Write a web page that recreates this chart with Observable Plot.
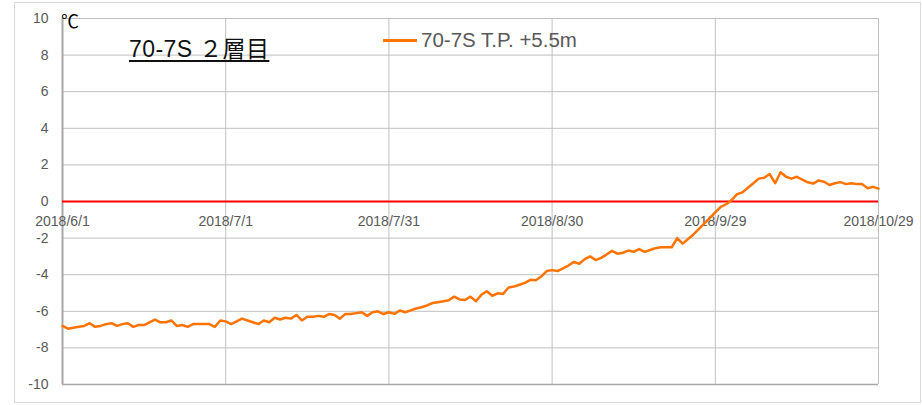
<!DOCTYPE html>
<html>
<head>
<meta charset="utf-8">
<script src="https://cdn.jsdelivr.net/npm/d3@7"></script>
<script src="https://cdn.jsdelivr.net/npm/@observablehq/plot@0.6"></script>
<style>
  html, body { margin: 0; padding: 0; background: #fff; }
  #wrap { position: relative; width: 922px; height: 405px; overflow: hidden; }
  #frame { position: absolute; left: 14px; top: 2px; width: 905px; height: 399px; border: 1px solid #d9d9d9; pointer-events: none; }
  #title { position: absolute; left: 129px; top: 30px; font: 23px "Liberation Sans", "Noto Sans CJK JP", sans-serif; letter-spacing: 0.4px; color: #111; text-decoration: underline; text-underline-offset: 3px; text-decoration-thickness: 1.5px; white-space: nowrap; }
  #unit { position: absolute; left: 61px; top: 7px; font: 18px "Noto Sans CJK JP", "DejaVu Sans", sans-serif; color: #000; }
  #legend { position: absolute; left: 383px; top: 28px; font: 20.5px "Liberation Sans", sans-serif; color: #595959; white-space: nowrap; display: flex; align-items: center; }
  #legend .sw { display: inline-block; width: 34px; height: 3px; background: #ff7300; margin-right: 4px; }
  svg { position: absolute; left: 0; top: 0; }
</style>
</head>
<body>
<div id="wrap">
  <div id="frame"></div>
</div>
<script>
// ---- data ----
const startDate = "2018-06-01";
const temps = [
  -6.8, -6.95, -6.9, -6.85, -6.8, -6.65, -6.85, -6.8, -6.7, -6.65,
  -6.8, -6.7, -6.65, -6.85, -6.75, -6.75, -6.6, -6.45, -6.6, -6.6,
  -6.5, -6.8, -6.75, -6.85, -6.7, -6.7, -6.7, -6.7, -6.85, -6.5,
  -6.55, -6.7, -6.55, -6.4, -6.5, -6.6, -6.7, -6.5, -6.6, -6.35,
  -6.45, -6.35, -6.4, -6.2, -6.5, -6.3, -6.3, -6.25, -6.3, -6.15,
  -6.2, -6.4, -6.15, -6.15, -6.1, -6.05, -6.25, -6.05, -6.0, -6.15,
  -6.05, -6.14, -5.96, -6.05, -5.95, -5.85, -5.78, -5.68, -5.55, -5.5,
  -5.45, -5.4, -5.2, -5.35, -5.38, -5.2, -5.45, -5.1, -4.9, -5.15,
  -5.02, -5.05, -4.7, -4.65, -4.55, -4.45, -4.28, -4.3, -4.1, -3.8,
  -3.75, -3.8, -3.65, -3.5, -3.3, -3.4, -3.15, -3.0, -3.2, -3.08,
  -2.9, -2.7, -2.85, -2.8, -2.68, -2.75, -2.6, -2.75, -2.65, -2.55,
  -2.5, -2.5, -2.5, -2.0, -2.3, -2.05, -1.8, -1.5, -1.2, -0.9,
  -0.6, -0.3, -0.15, 0.08, 0.4, 0.5, 0.75, 1.0, 1.25, 1.3,
  1.5, 1.0, 1.6, 1.35, 1.25, 1.35, 1.2, 1.05, 0.98, 1.15,
  1.08, 0.9, 1.0, 1.06, 0.95, 1.0, 0.95, 0.95, 0.72, 0.8,
  0.7
];
const xTickDates = ["2018-06-01", "2018-07-01", "2018-07-31", "2018-08-30", "2018-09-29", "2018-10-29"];
const xTickLabels = ["2018/6/1", "2018/7/1", "2018/7/31", "2018/8/30", "2018/9/29", "2018/10/29"];
const yTicks = [-10, -8, -6, -4, -2, 0, 2, 4, 6, 8, 10];
const seriesName = "70-7S T.P. +5.5m";
const titleText = "70-7S ２層目";
const unitText = "℃";

// ---- build ----
const day = 86400000;
const t0 = new Date(startDate + "T00:00:00Z").getTime();
const data = temps.map((v, i) => ({date: new Date(t0 + i * day), value: v}));
const ticks = xTickDates.map(s => new Date(s + "T00:00:00Z"));
const tickRows = ticks.map((d, i) => ({date: d, label: xTickLabels[i]}));

const chart = Plot.plot({
  width: 922,
  height: 405,
  marginLeft: 62,
  marginRight: 44,
  marginTop: 18,
  marginBottom: 21,
  style: {fontFamily: "'Liberation Sans', sans-serif", background: "transparent"},
  x: {type: "utc", domain: [ticks[0], ticks[ticks.length - 1]], axis: null},
  y: {domain: [-10, 10], axis: null},
  marks: [
    Plot.gridY(yTicks, {stroke: "#c0c0c0", strokeOpacity: 1, strokeWidth: 1}),
    Plot.gridX(ticks, {stroke: "#c0c0c0", strokeOpacity: 1, strokeWidth: 1}),
    Plot.ruleX([ticks[0]], {stroke: "#a6a6a6", strokeWidth: 2}),
    Plot.ruleY([-10], {stroke: "#a6a6a6", strokeWidth: 1.5}),
    Plot.axisY(yTicks, {tickSize: 0, tickPadding: 14, fontSize: 14, color: "#595959", label: null, tickFormat: d => String(d)}),
    Plot.text(tickRows, {x: "date", y: -1.1, text: "label", fill: "#595959", fontSize: 14}),
    Plot.ruleY([0], {stroke: "#ff0000", strokeWidth: 2}),
    Plot.line(data, {x: "date", y: "value", stroke: "#ff7300", strokeWidth: 2.5, strokeLinejoin: "round"})
  ]
});

const wrap = document.getElementById("wrap");
wrap.insertBefore(chart, wrap.firstChild);

const unit = document.createElement("div");
unit.id = "unit"; unit.textContent = unitText; wrap.appendChild(unit);
const title = document.createElement("div");
title.id = "title"; title.textContent = titleText; wrap.appendChild(title);
const legend = document.createElement("div");
legend.id = "legend";
legend.innerHTML = '<span class="sw"></span><span></span>';
legend.lastChild.textContent = seriesName;
wrap.appendChild(legend);
</script>
</body>
</html>
